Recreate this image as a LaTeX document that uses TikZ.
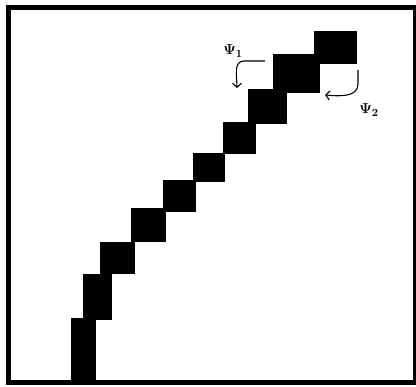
\documentclass[tikz,border=0pt]{standalone}
\usepackage{amssymb}
\usepackage{amsmath}
\usepackage{xcolor}
\usepackage{tikz}
\usetikzlibrary{arrows.meta}

\begin{document}
\begin{tikzpicture}[x=1pt, y=-1pt, every node/.style={font=\fontsize{15}{18}\selectfont\boldmath},
    psiarrow/.style={-{Straight Barb[length=4pt,width=9pt]}, line width=1.1pt}]
  \useasboundingbox (0,0) rectangle (416,387);
  \foreach \xa/\ya/\xb/\yb in {71/318/96/383, 83/274/112/320, 100/242/135/274,
      131/208/166/242, 163/180/196/212, 193/153/225/182, 223/122/256/154,
      248/89/287/124, 273/54/320/93, 314/31/357/64}{
    \fill[black] (\xa,\ya) rectangle (\xb,\yb);
  }
  \draw[line width=5pt] (8,7.5) rectangle (415.5,382.5);
  \node[inner sep=1pt] (psi1) at (233,51) {$\Psi_1$};
  \node[inner sep=1pt] (psi2) at (369,110) {$\Psi_2$};
  \coordinate (a1) at (265,61);
  \coordinate (b1) at (237,88);
  \coordinate (a2) at (358,70);
  \coordinate (b2) at (325,95);
  \draw[psiarrow] (a1) -- ++(-21,0) to[out=180,in=90] (b1);
  \draw[psiarrow] (a2) -- ++(0,14) to[out=-90,in=-5] (b2);
\end{tikzpicture}
\end{document}
